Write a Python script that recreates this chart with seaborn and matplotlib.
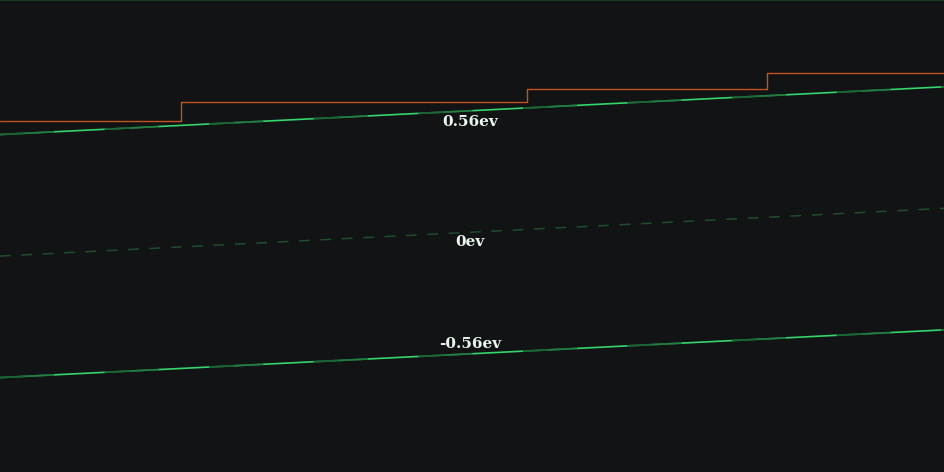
import matplotlib
matplotlib.use("Agg")
import matplotlib.pyplot as plt
import numpy as np
import pandas as pd
import seaborn as sns

# band edges across the device (x from left to right edge)
band_x = [0.0, 1.0]
ec = [0.56, 0.78]     # conduction band
ei = [0.0, 0.22]      # intrinsic level
ev = [-0.56, -0.34]   # valence band

# stepped quasi-fermi level
step_x = [0.0, 0.192, 0.558, 0.8125, 1.0]
step_y = [0.622, 0.710, 0.770, 0.843]

labels = ["0.56ev", "0ev", "-0.56ev"]
label_y = [0.67, 0.11, -0.45]
label_off = [-8, -7, 7]

bg = "#111315"
sns.set_theme(style="dark", rc={"axes.facecolor": bg, "figure.facecolor": bg})

fig = plt.figure(figsize=(9.44, 4.72), dpi=100)
ax = fig.add_axes([0, 0, 1, 1])

# orange step line
sdf = pd.DataFrame({"x": step_x, "y": step_y + [step_y[-1]]})
sns.lineplot(data=sdf, x="x", y="y", ax=ax, drawstyle="steps-post",
             color="#c4521e", linewidth=1.0, estimator=None, sort=False)

# dashed midgap line
mdf = pd.DataFrame({"x": band_x, "y": ei})
sns.lineplot(data=mdf, x="x", y="y", ax=ax, color="#1f4d2e",
             linewidth=1.1, dashes=False, estimator=None)
ax.lines[-1].set_dashes([7, 7])

# band edges: bright green with dim shimmer overlaid
for yy in (ec, ev):
    df = pd.DataFrame({"x": band_x, "y": yy})
    sns.lineplot(data=df, x="x", y="y", ax=ax, color="#35d46c",
                 linewidth=1.2, estimator=None)
    sns.lineplot(data=df, x="x", y="y", ax=ax, color="#123a22",
                 linewidth=1.3, estimator=None, alpha=0.55)
    ax.lines[-1].set_dashes([30, 28])
    ax.lines[-1].set_dash_capstyle("butt")
    sns.lineplot(data=df, x="x", y="y", ax=ax, color="#123a22",
                 linewidth=1.3, estimator=None, alpha=0.35)
    ax.lines[-1].set_dashes([14, 44])

for txt, yy, off in zip(labels, label_y, label_off):
    ax.annotate(txt, xy=(0.498, yy), xytext=(0, off), textcoords="offset points",
                ha="center", va="center", color="#eaf6ee", fontsize=11,
                fontweight="bold", family=["DejaVu Serif"])

ax.set_xlim(0, 1)
ax.set_ylim(-0.995, 1.18)
ax.set_xlabel("")
ax.set_ylabel("")
ax.set_xticks([])
ax.set_yticks([])
for s in ["left", "right", "bottom"]:
    ax.spines[s].set_visible(False)
ax.spines["top"].set_color("#1b3a25")
ax.spines["top"].set_linewidth(1.5)

fig.savefig("out.png", dpi=100, facecolor=bg)
